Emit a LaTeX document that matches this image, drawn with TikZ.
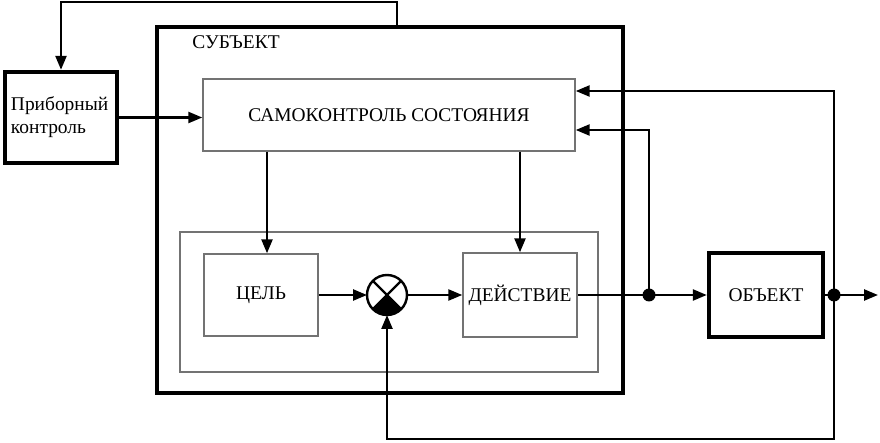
\documentclass[tikz,border=0pt]{standalone}
\usepackage{fontspec}
\setmainfont{Liberation Serif}
\usetikzlibrary{arrows.meta,positioning,calc}

\begin{document}
\begin{tikzpicture}[
  x=1bp, y=-1bp,
  thinbox/.style  = {rectangle, draw=black!55, line width=1.4bp, inner sep=0pt},
  thickbox/.style = {rectangle, draw, line width=4.4bp, inner sep=0pt},
  conn/.style     = {-{Triangle[length=14bp,width=11bp]}, line width=2.4bp},
  wire/.style     = {line width=2.4bp},
  font=\fontsize{19.5}{23}\selectfont
]
\useasboundingbox (0,0) rectangle (880,443);

% Субъект и внешний контроль
\node[thickbox, minimum width=466bp, minimum height=366bp] (subj) at (390,210) {};
\node (subjlbl) at (236,42) {СУБЪЕКТ};
\node[thickbox, minimum width=112bp, minimum height=91bp,
      text width=100bp, align=left] (prib) at (61,117.5) {Приборный\\контроль};

% Блоки внутри субъекта
\node[thinbox, minimum width=372bp, minimum height=72bp] (samo) at (389,115) {САМОКОНТРОЛЬ СОСТОЯНИЯ};
\node[thinbox, minimum width=418bp, minimum height=140bp] (inner) at (389,302) {};
\node[thinbox, minimum width=114bp, minimum height=82bp] (goal) at (261,295) {ЦЕЛЬ};
\node[thinbox, minimum width=114bp, minimum height=84bp] (act) at (520,295) {ДЕЙСТВИЕ};
\node[circle, draw, line width=2.4bp, minimum size=40bp, inner sep=0pt, outer sep=0pt] (cmp) at (387,295) {};
\fill (cmp.center) -- (cmp.-135) arc[start angle=-135, end angle=-45, radius=20bp] -- cycle;
\draw[wire] (cmp.45) -- (cmp.-135) (cmp.135) -- (cmp.-45);

% Объект
\node[thickbox, minimum width=114bp, minimum height=84bp] (obj) at (766,295) {ОБЪЕКТ};

% Точки ветвления
\coordinate (d1)    at (649,295);
\coordinate (d2)    at (834,295);
\coordinate (out)   at (878,295);
\coordinate (topc)  at (397,2);
\coordinate (fbbot) at (834,439);

% Прямая цепь
\draw[conn] (prib.east) -- (prib.east -| samo.west);
\draw[conn] ([xshift=6bp]samo.south -| goal.north) -- ([xshift=6bp]goal.north);
\draw[conn] (samo.south -| act.north) -- (act.north);
\draw[conn] (goal.east) -- (cmp.west);
\draw[conn] (cmp.east) -- (act.west);
\draw[conn] (act.east) -- (obj.west);
\draw[conn] (obj.east) -- (out);

% Обратные связи
\draw[conn] (subj.north -| topc) -- (topc) -| (prib.north);
\draw[conn] (d1) |- ([yshift=-15bp]samo.east);
\draw[conn] (d2) |- ([yshift=24bp]samo.east);
\draw[conn] (d2) -- (fbbot) -| (cmp.south);
\fill (d1) circle[radius=6.5bp];
\fill (d2) circle[radius=6.5bp];

\end{tikzpicture}
\end{document}
